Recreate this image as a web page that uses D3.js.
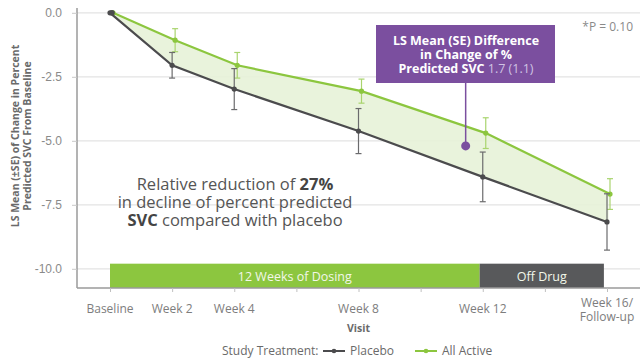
<!DOCTYPE html>
<html>
<head>
<meta charset="utf-8">
<script src="https://cdn.jsdelivr.net/npm/d3@7"></script>
<style>
  html, body { margin: 0; padding: 0; background: #fff; }
  svg { display: block; font-family: "Open Sans", "Noto Sans", sans-serif; }
</style>
</head>
<body>
<svg id="chart" width="640" height="364"></svg>
<script>
// Visits (week number) and their axis labels
const weeks = [0, 2, 4, 8, 12, 16];
const visitLabels = [["Baseline"], ["Week 2"], ["Week 4"], ["Week 8"], ["Week 12"], ["Week 16/", "Follow-up"]];
const tickWeeks = [0, 2, 4, 6, 8, 10, 12, 14, 16];

// LS mean change in % predicted SVC and standard errors
const placebo   = [0, -2.05, -2.98, -4.62, -6.41, -8.17];
const placeboSE = [0, 0.50, 0.80, 0.88, 0.97, 1.10];
const active    = [0, -1.07, -2.05, -3.06, -4.70, -7.08];
const activeSE  = [0, 0.45, 0.50, 0.47, 0.60, 0.60];

const yTicks = [0, -2.5, -5, -7.5, -10];

// Study phases shown along the bottom
const phases = [
  { label: "12 Weeks of Dosing", start: 0, end: 11.9, color: "#8cc63f" },
  { label: "Off Drug", start: 11.9, end: 15.9, color: "#58595b" }
];

// Difference marker at week 12
const diffMarker = { week: 11.45, value: -5.2 };

const svg = d3.select("#chart");
const x = d3.scaleLinear().domain([0, 16]).range([110, 607]);
const y = d3.scaleLinear().domain([0.5, -10.75]).range([0, 288]);
const left = 77, right = 640, bottom = 288;

const green = "#8cc63f", dark = "#4b4b4d";
const activeOffset = 3;
const fmt = d => d3.format(".1f")(d).replace("−", "-");

// Gridlines
svg.append("g").selectAll("line").data(yTicks).join("line")
  .attr("x1", left).attr("x2", right)
  .attr("y1", d => y(d)).attr("y2", d => y(d))
  .attr("stroke", "#e3e3e3").attr("stroke-width", 1.2);

// Y axis
const yAxis = svg.append("g").attr("transform", `translate(${left},0)`)
  .call(d3.axisLeft(y).tickValues(yTicks).tickFormat(fmt).tickSize(5).tickSizeOuter(0));
yAxis.select(".domain").attr("stroke", "#9a9a9a").attr("stroke-width", 1.5)
  .attr("d", `M0,8V${bottom}`);
yAxis.selectAll(".tick line").attr("stroke", "#c8c8c8");
yAxis.selectAll(".tick text").attr("fill", "#8a8a8a").attr("font-size", 12).attr("x", -15);

// Y axis title
const yTitle = svg.append("text")
  .attr("transform", "translate(0,136) rotate(-90)")
  .attr("text-anchor", "middle").attr("fill", "#6a6a6a")
  .attr("font-size", 10.5).attr("font-weight", 700);
yTitle.append("tspan").attr("x", 0).attr("y", 19).text("LS Mean (±SE) of Change in Percent");
yTitle.append("tspan").attr("x", 0).attr("y", 31).text("Predicted SVC From Baseline");

// Phase bars
svg.append("g").selectAll("rect").data(phases).join("rect")
  .attr("x", d => x(d.start)).attr("width", d => x(d.end) - x(d.start))
  .attr("y", y(-9.8)).attr("height", bottom - y(-9.8))
  .attr("fill", d => d.color);
svg.append("g").selectAll("text").data(phases).join("text")
  .attr("x", d => (x(d.start) + x(d.end)) / 2).attr("y", y(-9.8) + 17)
  .attr("text-anchor", "middle").attr("fill", "#f2f7ea")
  .attr("font-size", 12.5).text(d => d.label);

// X axis
const xAxis = svg.append("g").attr("transform", `translate(0,${bottom})`)
  .call(d3.axisBottom(x).tickValues(tickWeeks).tickFormat("").tickSize(4).tickSizeOuter(0));
xAxis.select(".domain").attr("stroke", "#9a9a9a").attr("stroke-width", 1.5)
  .attr("d", `M${left},0H${right}`);
xAxis.selectAll(".tick line").attr("stroke", "#c0c0c0");

const xl = svg.append("g").selectAll("text").data(weeks).join("text")
  .attr("text-anchor", "middle").attr("fill", "#7d7d7d").attr("font-size", 12);
xl.each(function (d, i) {
  const t = d3.select(this);
  const lines = visitLabels[i];
  lines.forEach((s, k) => {
    t.append("tspan").attr("x", x(d)).attr("y", (lines.length > 1 ? 307 : 313) + k * 14).text(s);
  });
});
svg.append("text").attr("x", x(8)).attr("y", 332).attr("text-anchor", "middle")
  .attr("fill", "#6a6a6a").attr("font-size", 10.5).attr("font-weight", 700).text("Visit");

// Shaded area between the treatment arms
const area = d3.area()
  .x((d, i) => x(weeks[i]) + (i === 0 ? 0 : 1.5))
  .y0((d, i) => y(placebo[i])).y1(d => y(d));
svg.append("path").datum(active).attr("d", area).attr("fill", "#e7f2d8").attr("opacity", 0.9);

// Lines, error bars, markers
function drawSeries(values, se, color, barColor, dx) {
  const g = svg.append("g");
  const line = d3.line().x((d, i) => x(weeks[i]) + dx).y(d => y(d));
  g.append("path").datum(values).attr("d", line)
    .attr("fill", "none").attr("stroke", color).attr("stroke-width", 2.2);
  const bars = g.selectAll("g.err").data(values.map((v, i) => ({ v, s: se[i], w: weeks[i] })).filter(d => d.s > 0))
    .join("g").attr("class", "err").attr("stroke", barColor).attr("stroke-width", 1.2);
  bars.append("line").attr("x1", d => x(d.w) + dx).attr("x2", d => x(d.w) + dx)
    .attr("y1", d => y(d.v + d.s)).attr("y2", d => y(d.v - d.s));
  bars.append("line").attr("x1", d => x(d.w) + dx - 3).attr("x2", d => x(d.w) + dx + 3)
    .attr("y1", d => y(d.v + d.s)).attr("y2", d => y(d.v + d.s));
  bars.append("line").attr("x1", d => x(d.w) + dx - 3).attr("x2", d => x(d.w) + dx + 3)
    .attr("y1", d => y(d.v - d.s)).attr("y2", d => y(d.v - d.s));
  g.selectAll("circle").data(values).join("circle")
    .attr("cx", (d, i) => x(weeks[i]) + dx).attr("cy", d => y(d))
    .attr("r", 2.6).attr("fill", color);
}
drawSeries(active, activeSE, green, "#a9d46e", activeOffset);
drawSeries(placebo, placeboSE, dark, "#6b6b6d", 0);
svg.append("circle").attr("cx", x(0) + 2).attr("cy", y(0)).attr("r", 2.8).attr("fill", dark);

// Difference callout
const purple = "#7b4f9f";
const mx = x(diffMarker.week);
svg.append("line").attr("x1", mx).attr("x2", mx).attr("y1", 82).attr("y2", y(diffMarker.value))
  .attr("stroke", purple).attr("stroke-width", 1.5);
svg.append("circle").attr("cx", mx).attr("cy", y(diffMarker.value)).attr("r", 4.5).attr("fill", purple);
svg.append("rect").attr("x", 376).attr("y", 25).attr("width", 179).attr("height", 58).attr("fill", purple);
const boxLines = [
  { y: 45, parts: [["LS Mean (SE) Difference", null]] },
  { y: 59, parts: [["in Change of %", null]] },
  { y: 73, parts: [["Predicted SVC ", null], ["1.7 (1.1)", "#cfc3e3"]] }
];
boxLines.forEach(bl => {
  const t = svg.append("text").attr("x", 466).attr("y", bl.y).attr("text-anchor", "middle")
    .attr("fill", "#ffffff").attr("font-size", 12.5).attr("font-weight", 700);
  bl.parts.forEach(([s, c]) => {
    const sp = t.append("tspan").text(s);
    if (c) sp.attr("fill", c).attr("font-weight", 400);
  });
});

// P value
svg.append("text").attr("x", 633).attr("y", 31).attr("text-anchor", "end")
  .attr("fill", "#8a8a8a").attr("font-size", 12).text("*P = 0.10");

// Relative reduction note
const noteLines = [
  { y: 190, parts: [["Relative reduction of ", false], ["27%", true]] },
  { y: 208, parts: [["in decline of percent predicted", false]] },
  { y: 226, parts: [["SVC", true], [" compared with placebo", false]] }
];
noteLines.forEach(nl => {
  const t = svg.append("text").attr("x", 235).attr("y", nl.y).attr("text-anchor", "middle")
    .attr("fill", "#555").attr("font-size", 16.5);
  nl.parts.forEach(([s, b]) => {
    const sp = t.append("tspan").text(s);
    if (b) sp.attr("font-weight", 700).attr("fill", "#444");
  });
});

// Legend
const lg = svg.append("g").attr("font-size", 12).attr("fill", "#6a6a6a");
lg.append("text").attr("x", 222).attr("y", 355).text("Study Treatment:");
const legendItems = [
  { label: "Placebo", color: dark, x: 323 },
  { label: "All Active", color: green, x: 415 }
];
legendItems.forEach(it => {
  lg.append("line").attr("x1", it.x).attr("x2", it.x + 22).attr("y1", 351).attr("y2", 351)
    .attr("stroke", it.color).attr("stroke-width", 2);
  lg.append("circle").attr("cx", it.x + 11).attr("cy", 351).attr("r", 2.3).attr("fill", it.color);
  lg.append("text").attr("x", it.x + 27).attr("y", 355).text(it.label);
});
</script>
</body>
</html>
